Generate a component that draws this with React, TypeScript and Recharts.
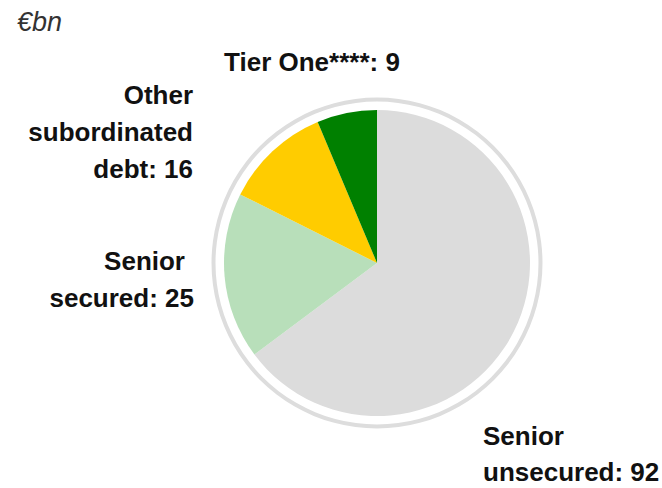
import React from 'react';
import {Pie, PieChart} from 'recharts';

// debt split, €bn, drawn clockwise from 12 o'clock
const categories = ['Senior unsecured', 'Senior secured', 'Other subordinated debt', 'Tier One****'];
const values = [92, 25, 16, 9];
const colors = ['#dcdcdc', '#b8dfba', '#ffcc00', '#008000'];
const labelLines = [
    ['Senior', 'unsecured: 92'],
    ['Senior', 'secured: 25'],
    ['Other', 'subordinated', 'debt: 16'],
    ['Tier One****: 9'],
];

const W = 662;
const H = 488;
const CX = 377;
const CY = 263;
const R = 153;
const FONT = '"Liberation Sans", Arial, sans-serif';

// where each label block sits (x per line, first baseline, anchor, line gap)
const LABEL_POS: { xs: number[]; y: number; anchor: 'start' | 'middle' | 'end'; lh: number }[] = [
    {xs: [483, 483], y: 445, anchor: 'start', lh: 36},
    {xs: [185, 194], y: 270, anchor: 'end', lh: 37},
    {xs: [193, 193, 193], y: 104, anchor: 'end', lh: 37},
    {xs: [312], y: 71, anchor: 'middle', lh: 37},
];

const data = categories.map((name, i) => ({name, value: values[i], fill: colors[i]}));
const ring = [{name: 'ring', value: 1, fill: '#dddddd'}];

const renderLabel = (props: any) => {
    const i = props.index;
    const pos = LABEL_POS[i];
    return (
        <text
            key={'lbl' + i}
            textAnchor={pos.anchor}
            fontFamily={FONT}
            fontWeight="bold"
            fontSize={26}
            fill="#111"
        >
            {labelLines[i].map((line, j) => (
                <tspan key={j} x={pos.xs[j]} y={pos.y + j * pos.lh}>{line}</tspan>
            ))}
        </text>
    );
};

export default function App() {
    return (
        <div style={{position: 'absolute', left: 0, top: 0, width: W, height: H, background: '#fff'}}>
            <div style={{
                position: 'absolute', left: 17, top: 9, fontFamily: FONT, fontStyle: 'italic',
                fontSize: 27, lineHeight: 1, color: '#333',
            }}>€bn</div>
            <PieChart width={W} height={H} margin={{top: 0, right: 0, bottom: 0, left: 0}}>
                <Pie
                    data={ring}
                    dataKey="value"
                    cx={CX}
                    cy={CY}
                    innerRadius={161.5}
                    outerRadius={165.5}
                    stroke="none"
                    isAnimationActive={false}
                />
                <Pie
                    data={data}
                    dataKey="value"
                    cx={CX}
                    cy={CY}
                    outerRadius={R}
                    startAngle={90}
                    endAngle={-270}
                    stroke="none"
                    label={renderLabel}
                    labelLine={false}
                    isAnimationActive={false}
                />
            </PieChart>
        </div>
    );
}
